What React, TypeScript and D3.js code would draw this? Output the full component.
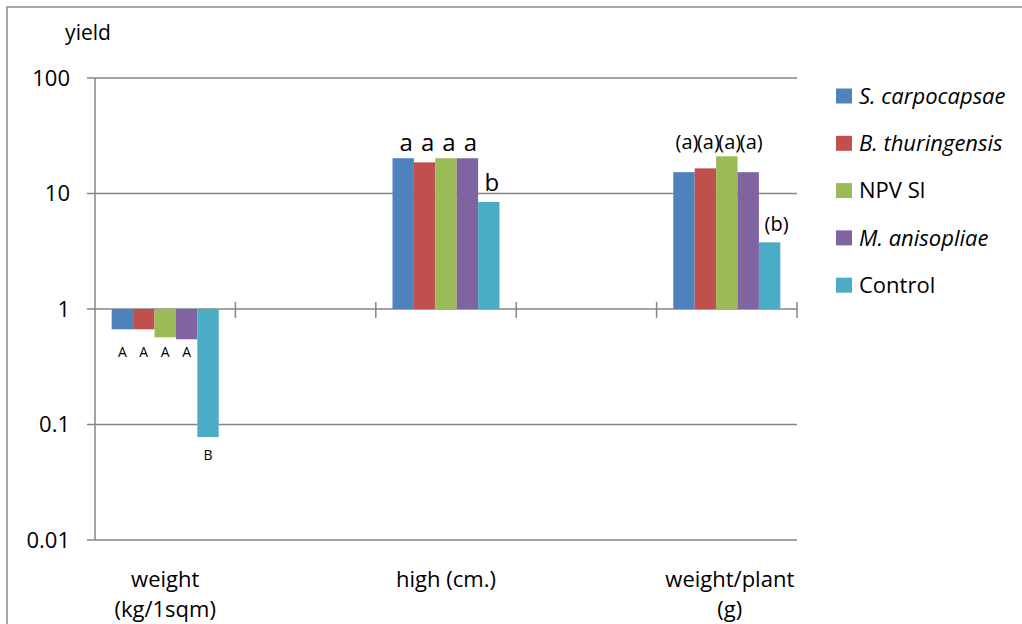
import React from 'react';
import * as d3 from 'd3';

// data
const categories = ['weight (kg/1sqm)', '', 'high (cm.)', '', 'weight/plant (g)'];
const categoryLines = [['weight', '(kg/1sqm)'], [], ['high (cm.)'], [], ['weight/plant', '(g)']];
const seriesNames = ['S. carpocapsae', 'B. thuringensis', 'NPV Sl', 'M. anisopliae', 'Control'];
const italicSeries = ['S. carpocapsae', 'B. thuringensis', 'M. anisopliae'];

const sCarpocapsae = [0.667, null, 20.2, null, 15.3];
const bThuringensis = [0.667, null, 18.6, null, 16.5];
const npvSl = [0.569, null, 20.2, null, 21.0];
const mAnisopliae = [0.547, null, 20.2, null, 15.3];
const control = [0.078, null, 8.44, null, 3.78];

const weightLetters = ['A', 'A', 'A', 'A', 'B'];
const highLetters = ['a', 'a', 'a', 'a', 'b'];
const plantLetters = ['(a)', '(a)', '(a)', '(a)', '(b)'];

const yTicks = [0.01, 0.1, 1, 10, 100];
const yTickLabels = ['0.01', '0.1', '1', '10', '100'];

const seriesValues = [sCarpocapsae, bThuringensis, npvSl, mAnisopliae, control];
const letters = [weightLetters, [], highLetters, [], plantLetters];

const colors = ['#4F81BD', '#C0504D', '#9BBB59', '#8064A2', '#4BACC6'];
const gridColor = '#868686';
const font = '"Open Sans", sans-serif';

export default function App() {
  const width = 1022;
  const height = 624;
  const margin = { top: 78, right: 225, bottom: 84, left: 95 };

  const x = d3.scaleBand<number>()
    .domain(d3.range(categories.length))
    .range([margin.left, width - margin.right])
    .paddingInner(0)
    .paddingOuter(0);

  const xs = d3.scaleBand<number>()
    .domain(d3.range(seriesNames.length))
    .range([0, x.bandwidth()])
    .paddingInner(0)
    .paddingOuter(0.78);

  const y = d3.scaleLog()
    .domain([0.01, 100])
    .range([height - margin.bottom, margin.top]);

  const x0 = margin.left;
  const x1 = width - margin.right;
  const base = y(1);

  // bars
  const bars = seriesValues.map((vals, s) =>
    vals.map((v, c) => {
      if (v == null) return null;
      const yv = y(v);
      return (
        <rect key={s + '-' + c}
              x={(x(c) as number) + (xs(s) as number)}
              y={Math.min(yv, base)}
              width={xs.bandwidth()}
              height={Math.abs(yv - base)}
              fill={colors[s]} />
      );
    })
  );

  // significance letters: bars sharing a letter get one row, placed off the furthest bar
  const labels = letters.map((row, c) =>
    row.map((t, s) => {
      const v = seriesValues[s][c];
      if (v == null) return null;
      const below = v < 1;
      const same = row.map((u, k) => (u === t ? seriesValues[k][c] : null))
        .filter(d => d != null) as number[];
      const shared = same.length > 1;
      const ext = below ? (d3.min(same) as number) : (d3.max(same) as number);
      const cx = (x(c) as number) + (xs(s) as number) + xs.bandwidth() / 2;
      const size = c === 0 ? 14 : c === 2 ? 24 : 20;
      const dx = c === 0 ? 0 : (t === '(b)' ? 7 : 3);
      const ty = below
        ? y(ext) + (shared ? 18 : 23)
        : y(ext) - (shared ? 7 : 11);
      return (
        <text key={'l' + s + '-' + c}
              x={cx + dx}
              y={ty}
              textAnchor="middle"
              fontSize={size}
              fontFamily={font}
              fill="#000">{t}</text>
      );
    })
  );

  const catTicks = d3.range(1, categories.length + 1).map(i =>
    i === categories.length ? x1 : (x(i) as number));

  return (
    <div style={{ position: 'absolute', left: 0, top: 0 }}>
      <svg width={width} height={height} style={{ display: 'block', background: '#fff' }}>
        <rect x={7} y={7} width={1200} height={800} fill="#fff" stroke="#8c8c8c" strokeWidth={1.5} />

        {/* gridlines and y ticks */}
        {yTicks.map((t, i) => (
          <g key={'g' + i}>
            <line x1={x0 - 8} x2={x1} y1={y(t)} y2={y(t)} stroke={gridColor} strokeWidth={1.5} />
            <text x={70} y={y(t)} dy="0.35em" textAnchor="end"
                  fontSize={22} fontFamily={font} fill="#000">{yTickLabels[i]}</text>
          </g>
        ))}
        <line x1={x0} x2={x0} y1={y(100)} y2={y(0.01)} stroke={gridColor} strokeWidth={1.5} />

        {/* category tick marks crossing the axis at 1 */}
        {catTicks.map((tx, i) => (
          <line key={'t' + i} x1={tx} x2={tx} y1={base - 7} y2={base + 9}
                stroke={gridColor} strokeWidth={1.5} />
        ))}

        <text x={88} y={33} dy="0.35em" textAnchor="middle" fontSize={21}
              fontFamily={font} fill="#000">yield</text>

        {bars}
        {labels}

        {/* category labels */}
        {categoryLines.map((lines, c) => lines.map((ln, j) => (
          <text key={'c' + c + '-' + j}
                x={(x(c) as number) + x.bandwidth() / 2 + (c === 4 ? 3 : 0)}
                y={579 + j * 30} dy="0.35em" textAnchor="middle"
                fontSize={22} fontFamily={font} fill="#000">{ln}</text>
        )))}

        {/* legend */}
        {seriesNames.map((name, i) => {
          const ly = 96 + i * 47.3;
          return (
            <g key={'lg' + i}>
              <rect x={836} y={ly - 7.5} width={16} height={15} fill={colors[i]} />
              <text x={859} y={ly} dy="0.35em" fontSize={22} fontFamily={font}
                    fontStyle={italicSeries.includes(name) ? 'italic' : 'normal'}
                    fill="#000">{name}</text>
            </g>
          );
        })}
      </svg>
    </div>
  );
}
